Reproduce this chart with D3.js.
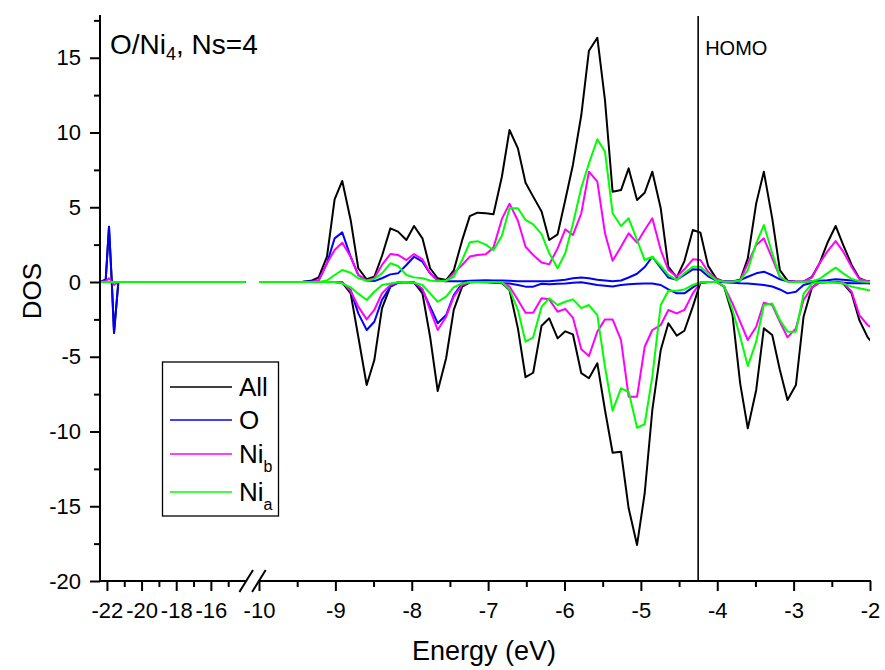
<!DOCTYPE html>
<html>
<head>
<meta charset="utf-8">
<script src="https://cdn.jsdelivr.net/npm/d3@7"></script>
<style>
  body { margin: 0; background: #fff; }
  text { font-family: Arial, "Liberation Sans", sans-serif; fill: #000; }
</style>
</head>
<body>
<div id="chart"></div>
<script>
// valence window, energies in eV
const energies = [-10.05, -9.95, -9.84, -9.74, -9.63, -9.53, -9.43, -9.32, -9.22, -9.11, -9.01,
  -8.91, -8.80, -8.70, -8.59, -8.49, -8.39, -8.28, -8.18, -8.07, -7.97,
  -7.86, -7.76, -7.66, -7.55, -7.45, -7.34, -7.24, -7.14, -7.03, -6.93,
  -6.82, -6.72, -6.61, -6.51, -6.41, -6.30, -6.20, -6.09, -5.99, -5.89,
  -5.78, -5.68, -5.57, -5.47, -5.37, -5.26, -5.16, -5.05, -4.95, -4.85,
  -4.74, -4.64, -4.53, -4.43, -4.32, -4.22, -4.12, -4.01, -3.91, -3.80,
  -3.70, -3.60, -3.49, -3.39, -3.28, -3.18, -3.08, -2.97, -2.87, -2.76,
  -2.66, -2.56, -2.45, -2.35, -2.24, -2.14, -2.03, -1.93];

const allUp = [0, 0, 0, 0, 0, 0, 0.02, 0.08, 0.3, 1.69, 5.53,
  6.76, 4.15, 0.92, 0.18, 0.35, 1.74, 3.59, 3.37, 2.81, 3.75,
  2.92, 0.92, 0.25, 0.13, 0.77, 2.8, 4.41, 4.64, 4.6, 4.53,
  7.04, 10.17, 8.94, 6.64, 5.71, 4.71, 2.81, 3.19, 5.48, 7.83,
  11.17, 15.47, 16.34, 12.17, 6.04, 6.15, 7.6, 5.48, 5.97, 7.38,
  4.93, 1.02, 0.31, 1.4, 3.48, 3.3, 1.08, 0.22, 0.02, 0.02,
  0.13, 1.58, 5.26, 7.38, 4.26, 0.8, 0.09, 0.02, 0.02, 0.35,
  1.25, 2.59, 3.75, 2.47, 1.14, 0.25, 0.02, 0];
const allDown = [0, 0, 0, 0, 0, 0, 0, 0, 0, 0, 0,
  -0.05, -0.76, -3.66, -6.89, -5.22, -1.76, -0.31, -0.02, 0, -0.02,
  -0.76, -3.66, -7.29, -5.1, -1.87, -0.31, -0.02, 0, 0, 0,
  -0.05, -0.54, -3.1, -6.37, -6.07, -2.92, -2.43, -3.77, -3.3, -3.5,
  -6.1, -6.44, -5.44, -8.56, -11.42, -11.35, -15.14, -17.59, -14.13, -8.56,
  -4.55, -2.76, -3.59, -3.26, -1.65, -0.05, 0, 0, -0.31, -2.21,
  -6.78, -9.79, -7.22, -3.1, -3.55, -5.89, -7.89, -6.89, -2.32, -0.36,
  -0.02, 0, 0, -0.1, -0.76, -2.54, -3.7, -4.3];

const oUp = [0, 0, 0, 0, 0, 0, 0, 0.05, 0.1, 1.25, 2.92,
  3.32, 1.69, 0.47, 0.1, 0.06, 0.25, 0.51, 0.58, 1.14, 1.69,
  1.36, 0.58, 0.1, 0.05, 0.05, 0.05, 0.08, 0.1, 0.12, 0.1,
  0.1, 0.08, 0.05, 0.05, 0.05, 0.05, 0.05, 0.1, 0.15, 0.25,
  0.3, 0.25, 0.15, 0.1, 0.05, 0.1, 0.3, 0.55, 1.0, 1.69,
  0.95, 0.3, 0.15, 0.47, 0.85, 0.82, 0.38, 0.1, 0.05, 0.05,
  0.13, 0.35, 0.58, 0.69, 0.45, 0.18, 0.05, 0.02, 0.02, 0.05,
  0.08, 0.12, 0.18, 0.15, 0.1, 0.05, 0.05, 0.05];
const oDown = [0, 0, 0, 0, 0, 0, 0, 0, 0, 0, 0,
  -0.05, -0.54, -2.1, -3.21, -2.66, -1.2, -0.31, -0.05, 0, -0.05,
  -0.54, -1.65, -2.76, -2.21, -0.87, -0.1, 0, 0, -0.02, -0.05,
  -0.08, -0.1, -0.2, -0.31, -0.31, -0.12, -0.15, -0.12, -0.1, -0.05,
  -0.02, -0.1, -0.2, -0.25, -0.3, -0.2, -0.15, -0.12, -0.1, -0.1,
  -0.2, -0.49, -0.76, -0.76, -0.36, -0.05, 0, 0, -0.02, -0.05,
  -0.09, -0.1, -0.15, -0.2, -0.3, -0.5, -0.76, -0.65, -0.2, -0.05,
  -0.02, 0, -0.02, -0.05, -0.08, -0.08, -0.09, -0.1];

const nibUp = [0, 0, 0, 0, 0, 0, 0, 0, 0.1, 1.25, 2.14,
  2.63, 1.69, 0.47, 0.1, 0.25, 1.14, 1.87, 1.81, 1.47, 1.87,
  1.52, 0.58, 0.08, 0.05, 0.6, 1.14, 1.7, 1.81, 1.86, 2.3,
  4.22, 5.24, 4.1, 2.36, 1.81, 1.3, 1.18, 2.25, 3.52, 3.14,
  4.6, 7.38, 6.71, 3.26, 1.42, 2.36, 3.26, 2.63, 3.48, 4.26,
  2.14, 0.8, 0.35, 0.85, 1.52, 1.47, 0.69, 0.18, 0.02, 0.02,
  0.1, 1.25, 2.47, 2.92, 1.58, 0.35, 0.05, 0.02, 0.02, 0.3,
  1.25, 2.03, 2.74, 2.03, 1.0, 0.2, 0.05, 0];
const nibDown = [0, 0, 0, 0, 0, 0, 0, 0, 0, 0, 0,
  0, -0.6, -1.65, -2.5, -1.87, -0.76, -0.2, -0.02, 0, -0.02,
  -0.45, -1.87, -3.21, -2.32, -0.98, -0.2, 0, 0, 0, 0,
  -0.05, -0.3, -1.2, -2.05, -2.05, -1.09, -1.16, -1.99, -1.8, -2.38,
  -4.5, -4.95, -3.32, -2.5, -2.5, -3.88, -7.67, -7.67, -4.33, -3.21,
  -2.88, -1.87, -2.1, -1.87, -0.76, -0.05, 0, 0, -0.3, -1.43,
  -2.66, -3.88, -2.99, -1.38, -1.54, -2.66, -3.7, -3.1, -1.2, -0.36,
  -0.05, 0, 0, -0.05, -0.65, -2.21, -2.88, -3.2];

const niaUp = [0, 0, 0, 0, 0, 0, 0, 0, 0, 0.1, 0.47,
  0.8, 0.62, 0.25, 0.08, 0.2, 0.58, 1.25, 1.07, 0.47, 0.31,
  0.25, 0.1, 0.05, 0.1, 0.35, 1.47, 2.66, 2.73, 2.5, 2.12,
  3.1, 4.93, 4.93, 4.15, 3.85, 3.2, 1.92, 0.92, 1.92, 3.9,
  6.3, 7.94, 9.55, 8.72, 4.6, 3.75, 4.26, 2.81, 1.47, 1.69,
  1.07, 0.47, 0.13, 0.58, 1.02, 1.02, 0.55, 0.1, 0.02, 0.02,
  0.1, 0.8, 2.59, 3.81, 1.92, 0.35, 0.02, 0, 0, 0.05,
  0.2, 0.58, 0.96, 0.58, 0.2, 0.05, 0, 0];
const niaDown = [0, 0, 0, 0, 0, 0, 0, 0, 0, 0, 0,
  -0.1, -0.36, -0.78, -1.2, -0.65, -0.2, -0.1, -0.02, 0, -0.05,
  -0.2, -0.76, -1.32, -0.98, -0.35, -0.1, 0, 0, 0, 0,
  -0.02, -0.5, -1.87, -3.99, -3.7, -1.65, -1.09, -1.54, -1.32, -1.16,
  -1.75, -1.54, -2.21, -5.67, -8.61, -7.11, -7.34, -9.75, -9.5, -6.33,
  -1.54, -0.58, -0.58, -0.5, -0.2, -0.02, 0, 0, -0.3, -1.87,
  -3.66, -5.62, -3.99, -1.54, -1.43, -2.54, -3.32, -3.32, -0.8, -0.1,
  -0.02, 0, -0.05, -0.1, -0.31, -0.42, -0.54, -0.6];

// O 2s region, left of the axis break
const coreEnergies = [-22.40, -22.07, -21.88, -21.72, -21.59, -21.34, -14.00];
const coreAllUp = [0, 0.15, 3.7, 0, 0, 0, 0];
const coreAllDown = [0, 0, 0, 0, -3.4, 0, 0];
const coreOUp = [0, 0.15, 3.7, 0, 0, 0, 0];
const coreODown = [0, 0, 0, 0, -3.4, 0, 0];
const coreNibUp = [0, 0.05, 0.25, 0, 0, 0, 0];
const coreNibDown = [0, 0, 0, 0, -0.2, 0, 0];
const coreNiaUp = [0, 0, 0, 0, 0, 0, 0];
const coreNiaDown = [0, 0, 0, 0, 0, 0, 0];

const homo = -4.25;
const seriesNames = ["All", "O", "Ni", "Ni"];
const seriesSubs = ["", "", "b", "a"];
const seriesColors = ["#000000", "#0000ff", "#ff00ff", "#00ff00"];
const coreTicks = [-22, -20, -18, -16];
const valTicks = [-10, -9, -8, -7, -6, -5, -4, -3, -2];
const yTicks = [-20, -15, -10, -5, 0, 5, 10, 15];

const width = 885, height = 670;
const svg = d3.select("#chart").append("svg")
  .attr("width", width).attr("height", height)
  .style("background", "#fff");

const y = d3.scaleLinear().domain([-20, 17.8]).range([581, 15.9]);
const xCore = d3.scaleLinear().domain([-22.4, -14]).range([100, 245.5]);
const xVal = d3.scaleLinear().domain([-10, -2]).range([259, 870]);
const axisY = 581;

const defs = svg.append("defs");
defs.append("clipPath").attr("id", "clipCore").append("rect")
  .attr("x", 100).attr("y", 0).attr("width", 145.5).attr("height", height);
defs.append("clipPath").attr("id", "clipVal").append("rect")
  .attr("x", 259).attr("y", 0).attr("width", 611).attr("height", height);

function drawPanel(xs, xdata, sets, clipId) {
  const g = svg.append("g").attr("clip-path", `url(#${clipId})`);
  sets.forEach((s, i) => {
    [s[0], s[1]].forEach(vals => {
      const line = d3.line()
        .x((d, j) => xs(xdata[j]))
        .y(d => y(d));
      g.append("path")
        .datum(vals)
        .attr("d", line)
        .attr("fill", "none")
        .attr("stroke", seriesColors[i])
        .attr("stroke-width", 2)
        .attr("stroke-linejoin", "round");
    });
  });
}

drawPanel(xCore, coreEnergies, [
  [coreAllUp, coreAllDown], [coreOUp, coreODown],
  [coreNibUp, coreNibDown], [coreNiaUp, coreNiaDown]
], "clipCore");
drawPanel(xVal, energies, [
  [allUp, allDown], [oUp, oDown], [nibUp, nibDown], [niaUp, niaDown]
], "clipVal");

// HOMO marker
svg.append("line")
  .attr("x1", xVal(homo)).attr("x2", xVal(homo))
  .attr("y1", 16).attr("y2", axisY)
  .attr("stroke", "#000").attr("stroke-width", 1.6);
svg.append("text")
  .attr("x", xVal(homo) + 7).attr("y", 55)
  .style("font-size", "20px")
  .text("HOMO");

// axes
function styleAxis(g) {
  g.select(".domain").remove();
  g.selectAll(".tick line").attr("stroke", "#000").attr("stroke-width", 2);
  g.selectAll(".tick text").style("font-size", "22px")
    .style("font-family", "Arial, 'Liberation Sans', sans-serif");
}
const fmt = d => String(d);

svg.append("g").attr("transform", `translate(0,${axisY})`)
  .call(d3.axisBottom(xCore).tickValues(coreTicks).tickSize(10).tickPadding(11).tickFormat(fmt))
  .call(styleAxis);
svg.append("g").attr("transform", `translate(0,${axisY})`)
  .call(d3.axisBottom(xCore).tickValues([-21, -19, -17, -15]).tickSize(6).tickFormat(""))
  .call(styleAxis);
svg.append("g").attr("transform", `translate(0,${axisY})`)
  .call(d3.axisBottom(xVal).tickValues(valTicks).tickSize(10).tickPadding(11).tickFormat(fmt))
  .call(styleAxis);
svg.append("g").attr("transform", `translate(0,${axisY})`)
  .call(d3.axisBottom(xVal).tickValues(d3.range(-9.5, -2, 1)).tickSize(6).tickFormat(""))
  .call(styleAxis);
svg.append("g").attr("transform", "translate(100,0)")
  .call(d3.axisLeft(y).tickValues(yTicks).tickSize(10).tickPadding(9).tickFormat(fmt))
  .call(styleAxis);
svg.append("g").attr("transform", "translate(100,0)")
  .call(d3.axisLeft(y).tickValues(d3.range(-17.5, 18, 5)).tickSize(6).tickFormat(""))
  .call(styleAxis);

// axis lines with break
svg.append("line").attr("x1", 100).attr("x2", 100)
  .attr("y1", 15).attr("y2", axisY + 1)
  .attr("stroke", "#000").attr("stroke-width", 2);
svg.append("line").attr("x1", 99).attr("x2", 246.5)
  .attr("y1", axisY).attr("y2", axisY)
  .attr("stroke", "#000").attr("stroke-width", 2);
svg.append("line").attr("x1", 258.5).attr("x2", 871)
  .attr("y1", axisY).attr("y2", axisY)
  .attr("stroke", "#000").attr("stroke-width", 2);
[246.2, 258.9].forEach(cx => {
  svg.append("line")
    .attr("x1", cx - 6.8).attr("y1", axisY + 11)
    .attr("x2", cx + 6.8).attr("y2", axisY - 11)
    .attr("stroke", "#000").attr("stroke-width", 2);
});

// axis titles
svg.append("text")
  .attr("x", 484).attr("y", 660)
  .attr("text-anchor", "middle")
  .style("font-size", "27px")
  .text("Energy (eV)");
svg.append("text")
  .attr("transform", "translate(41,291) rotate(-90)")
  .attr("text-anchor", "middle")
  .style("font-size", "26px")
  .text("DOS");

// panel title
const title = svg.append("text").attr("x", 110).attr("y", 54).style("font-size", "28px");
title.append("tspan").text("O/Ni");
title.append("tspan").attr("dy", 6).style("font-size", "18px").text("4");
title.append("tspan").attr("dy", -6).text(", Ns=4");

// legend
const legend = svg.append("g");
legend.append("rect")
  .attr("x", 162.5).attr("y", 362).attr("width", 116).attr("height", 154)
  .attr("fill", "#fff").attr("stroke", "#000").attr("stroke-width", 1.3);
const legendY = [387, 420, 454, 492];
seriesNames.forEach((name, i) => {
  legend.append("line")
    .attr("x1", 170).attr("x2", 232)
    .attr("y1", legendY[i]).attr("y2", legendY[i])
    .attr("stroke", seriesColors[i]).attr("stroke-width", 1.4);
  const t = legend.append("text")
    .attr("x", 239).attr("y", legendY[i] + 9)
    .style("font-size", "26px");
  t.append("tspan").text(name);
  if (seriesSubs[i]) {
    t.append("tspan").attr("dy", 9).style("font-size", "16px").text(seriesSubs[i]);
  }
});
</script>
</body>
</html>
